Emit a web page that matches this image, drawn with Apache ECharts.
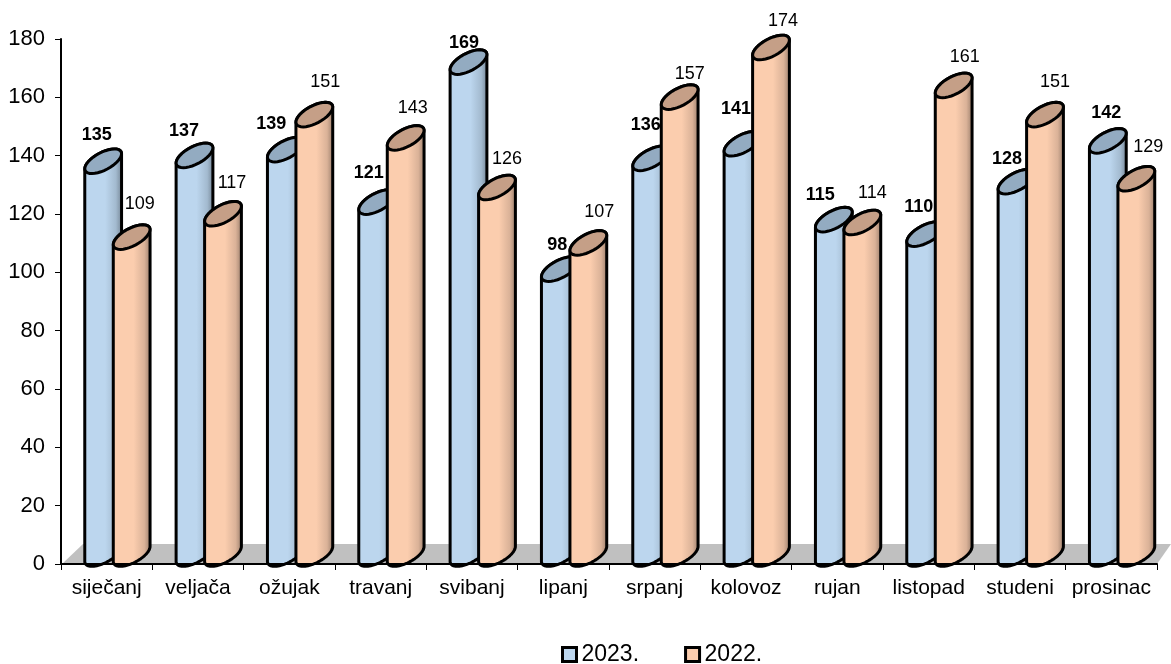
<!DOCTYPE html>
<html>
<head>
<meta charset="utf-8">
<style>html,body{margin:0;padding:0;background:#fff}#c{width:1171px;height:664px}</style>
<script src="https://cdn.jsdelivr.net/npm/echarts@6/dist/echarts.min.js"></script>
</head>
<body>
<div id="c"></div>
<script>
const categories = ['siječanj','veljača','ožujak','travanj','svibanj','lipanj','srpanj','kolovoz','rujan','listopad','studeni','prosinac'];
const values2023 = [135,137,139,121,169,98,136,141,115,110,128,142];
const values2022 = [109,117,151,143,126,107,157,174,114,161,151,129];
const yTicks = {min:0,max:180,interval:20};
// hand-placed data labels of the original, as offsets from the value point
const labelDx2023 = [-10,-14,-18,-12,-8,-6,-9,-10,-17,-10,-13,-5];
const labelDy2023 = [-35,-33,-35,-38,-28,-33,-42,-44,-34,-36,-32,-37];
const labelDx2022 = [33,34,36,32,35,36,35,37,35,36,35,37];
const labelDy2022 = [-42,-40,-42,-39,-37,-40,-32,-35,-38,-37,-42,-41];

const A = 20.3, B = 8.8, ROT = -28*Math.PI/180, N = 36;
function ell(cx, cy, t){
  return [cx + A*Math.cos(t)*Math.cos(ROT) - B*Math.sin(t)*Math.sin(ROT),
          cy + A*Math.cos(t)*Math.sin(ROT) + B*Math.sin(t)*Math.cos(ROT)];
}
const T0 = Math.atan2(-B*Math.sin(ROT), A*Math.cos(ROT));
function arc(cx, cy, from, to){
  const p = [];
  for(let i=0;i<=N;i++) p.push(ell(cx, cy, from+(to-from)*i/N));
  return p;
}
function cylinder(opts){
  return function(params, api){
    const i = api.value(0), v = api.value(1);
    const top = api.coord([i, v]), base = api.coord([i, 0]);
    const cw = api.size([1,0])[0];
    const cx = top[0] + opts.shift*cw;
    const ty = top[1]-9, by = base[1]-10;
    const body = arc(cx, by, T0, T0+Math.PI).concat(arc(cx, ty, T0+Math.PI, T0+2*Math.PI));
    const cap = arc(cx, ty, 0, 2*Math.PI);
    return {type:'group', children:[
      {type:'polygon', shape:{points:body}, style:{
        fill:{type:'linear',x:0,y:0,x2:1,y2:0,colorStops:[
          {offset:0,color:opts.light},{offset:0.55,color:opts.light},{offset:0.82,color:opts.mid},{offset:1,color:opts.dark}]},
        stroke:'#000',lineWidth:3,lineJoin:'round'}},
      {type:'polygon', shape:{points:cap}, style:{fill:opts.cap,stroke:'#000',lineWidth:3}},
      {type:'text', z2:50, style:{text:String(v), x:top[0]+opts.dx[i], y:top[1]+opts.dy[i],
        align:'center', verticalAlign:'middle', fill:'#000',
        font:opts.font}}
    ]};
  };
}
function floor(params, api){
  const c = params.coordSys;
  const y = c.y+c.height, x0 = c.x+1, x1 = c.x+c.width;
  return {type:'polygon', shape:{points:[[x0,y],[x0+21,y-20],[x1+14,y-20],[x1,y]]}, style:{fill:'#c0c0c0'}};
}
const chart = echarts.init(document.getElementById('c'), null, {renderer:'canvas'});
const rows = a => a.map((v,i)=>[i,v]);
chart.setOption({
  animation:false,
  backgroundColor:'#fff',
  textStyle:{fontFamily:'Liberation Sans'},
  grid:{left:61,right:14,top:39,bottom:100,containLabel:false},
  legend:{data:['2023.','2022.'],left:556,top:638,itemWidth:14,itemHeight:14,itemGap:45,
    icon:'rect',selectedMode:false,
    itemStyle:{borderColor:'#000',borderWidth:3},
    textStyle:{fontFamily:'Liberation Sans',fontSize:23,color:'#000'}},
  xAxis:{type:'category',data:categories,z:5,
    axisLine:{lineStyle:{color:'#000',width:2}},
    axisTick:{show:true,length:6,alignWithLabel:false,lineStyle:{color:'#000',width:1}},
    axisLabel:{color:'#000',fontSize:21,margin:14,interval:0,fontFamily:'Liberation Sans'},
    splitLine:{show:false}},
  yAxis:{type:'value',min:yTicks.min,max:yTicks.max,interval:yTicks.interval,z:5,
    axisLine:{show:true,lineStyle:{color:'#000',width:2}},
    axisTick:{show:true,length:6,lineStyle:{color:'#000',width:1}},
    axisLabel:{color:'#000',fontSize:22,margin:16,fontFamily:'Liberation Sans'},
    splitLine:{show:false}},
  series:[
    {type:'custom',name:'floor',data:[[0,0]],renderItem:floor,silent:true,z:1},
    {type:'custom',name:'2023.',data:rows(values2023),z:2,
      itemStyle:{color:'#BCD6EE'},encode:{x:0,y:1},
      renderItem:cylinder({shift:-3.5/91.33,light:'#BCD6EE',mid:'#A3BACF',dark:'#6F7F8E',cap:'#93ABC1',
        dx:labelDx2023,dy:labelDy2023,font:'bold 18px "Liberation Sans"'})},
    {type:'custom',name:'2022.',data:rows(values2022),z:3,
      itemStyle:{color:'#FBCDAE'},encode:{x:0,y:1},
      renderItem:cylinder({shift:25/91.33,light:'#FBCDAE',mid:'#DAB298',dark:'#917766',cap:'#C59F87',
        dx:labelDx2022,dy:labelDy2022,font:'18px "Liberation Sans"'})}
  ]
});
</script>
</body>
</html>
